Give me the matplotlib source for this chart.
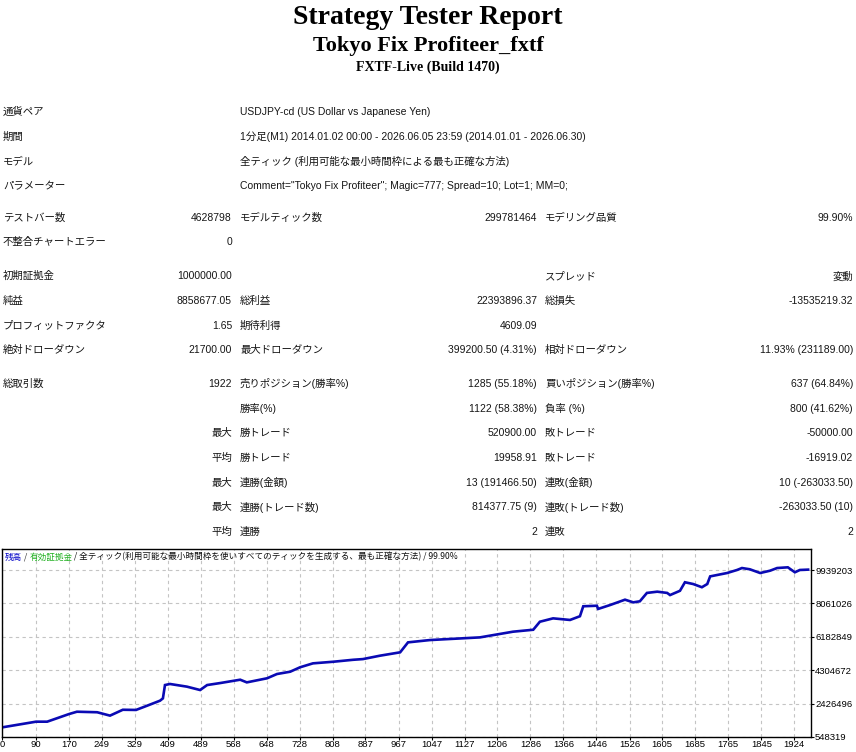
import matplotlib
matplotlib.use('Agg')
import matplotlib.pyplot as plt

# ---- report header ----
title = "Strategy Tester Report"
ea_name = "Tokyo Fix Profiteer_fxtf"
server = "FXTF-Live (Build 1470)"

# ---- report table (text only) ----
info_rows = [
    ("通貨ペア", "USDJPY-cd (US Dollar vs Japanese Yen)"),
    ("期間", "1分足(M1) 2014.01.02 00:00 - 2026.06.05 23:59 (2014.01.01 - 2026.06.30)"),
    ("モデル", "全ティック (利用可能な最小時間枠による最も正確な方法)"),
    ("パラメーター", 'Comment="Tokyo Fix Profiteer"; Magic=777; Spread=10; Lot=1; MM=0;'),
]
test_rows = [
    ("テストバー数", "4628798", "モデルティック数", "299781464", "モデリング品質", "99.90%"),
    ("不整合チャートエラー", "0", "", "", "", ""),
]
money_rows = [
    ("初期証拠金", "1000000.00", "", "", "スプレッド", "変動"),
    ("純益", "8858677.05", "総利益", "22393896.37", "総損失", "-13535219.32"),
    ("プロフィットファクタ", "1.65", "期待利得", "4609.09", "", ""),
    ("絶対ドローダウン", "21700.00", "最大ドローダウン", "399200.50 (4.31%)", "相対ドローダウン", "11.93% (231189.00)"),
]
trade_rows = [
    ("総取引数", "1922", "売りポジション(勝率%)", "1285 (55.18%)", "買いポジション(勝率%)", "637 (64.84%)"),
    ("", "", "勝率(%)", "1122 (58.38%)", "負率 (%)", "800 (41.62%)"),
    ("", "最大", "勝トレード", "520900.00", "敗トレード", "-50000.00"),
    ("", "平均", "勝トレード", "19958.91", "敗トレード", "-16919.02"),
    ("", "最大", "連勝(金額)", "13 (191466.50)", "連敗(金額)", "10 (-263033.50)"),
    ("", "最大", "連勝(トレード数)", "814377.75 (9)", "連敗(トレード数)", "-263033.50 (10)"),
    ("", "平均", "連勝", "2", "連敗", "2"),
]

# ---- balance curve ----
trade_no = [8, 90, 117, 170, 189, 238, 269, 300, 332, 359,
            390, 397, 402, 414, 455, 487, 504, 535, 584, 600,
            649, 673, 705, 729, 760, 809, 857, 881, 922, 971,
            990, 1043, 1164, 1244, 1293, 1309, 1341, 1382, 1406, 1414,
            1447, 1450, 1479, 1515, 1535, 1551, 1568, 1593, 1617, 1624,
            1648, 1660, 1680, 1701, 1714, 1721, 1762, 1786, 1798, 1817,
            1842, 1866, 1883, 1909, 1926, 1938, 1958]
balance_m = [1.09, 1.41, 1.41, 1.84, 1.97, 1.94, 1.75, 2.08, 2.07, 2.31,
             2.59, 2.72, 3.47, 3.53, 3.38, 3.19, 3.47, 3.58, 3.77, 3.62,
             3.85, 4.09, 4.22, 4.47, 4.69, 4.78, 4.89, 4.93, 5.12, 5.31,
             5.87, 6.00, 6.15, 6.47, 6.58, 7.03, 7.22, 7.13, 7.34, 7.90,
             7.93, 7.75, 7.97, 8.27, 8.12, 8.18, 8.65, 8.72, 8.65, 8.53,
             8.77, 9.25, 9.15, 8.97, 9.15, 9.58, 9.77, 9.94, 10.05, 9.98,
             9.77, 9.90, 10.05, 10.09, 9.81, 9.94, 9.96]
balance = [b * 1e6 for b in balance_m]

x_ticks = [0, 90, 170, 249, 329, 409, 489, 568, 648, 728, 808, 887, 967, 1047,
           1127, 1206, 1286, 1366, 1446, 1526, 1605, 1685, 1765, 1845, 1924]
y_ticks = [548319, 2426496, 4304672, 6182849, 8061026, 9939203]

legend_parts = ["残高", " / ", "有効証拠金", " / 全ティック(利用可能な最小時間枠を使いすべてのティックを生成する、最も正確な方法) / 99.90%"]
legend_colors = ["#0000c8", "#333333", "#20b020", "#111111"]

W, H = 856, 752
fig = plt.figure(figsize=(W / 100, H / 100), dpi=100)
fig.patch.set_facecolor('white')

jp = ['Liberation Sans', 'Noto Sans CJK JP']
serif = ['Liberation Serif', 'DejaVu Serif']


def fx(px):
    return px / W


def fy(py):
    return 1 - py / H


# header
fig.text(0.5, fy(18), title, family=serif, weight='bold', fontsize=20, ha='center', va='center')
fig.text(0.5, fy(46), ea_name, family=serif, weight='bold', fontsize=16, ha='center', va='center')
fig.text(0.5, fy(67), server, family=serif, weight='bold', fontsize=10, ha='center', va='center')

# table
fs = 7.5
tc = '#151515'
row_step = 24.7
y = 112
for lab, val in info_rows:
    fig.text(fx(3), fy(y), lab, family=jp, fontsize=fs, color=tc, va='center')
    fig.text(fx(240), fy(y), val, family=jp, fontsize=fs, color=tc, va='center')
    y += row_step

col_x = [3, 232, 240, 537, 545, 853]
col_ha = ['left', 'right', 'left', 'right', 'left', 'right']
y += 7
for section in (test_rows, money_rows, trade_rows):
    for row in section:
        for cx, ha, txt in zip(col_x, col_ha, row):
            if txt:
                fig.text(fx(cx), fy(y), txt, family=jp, fontsize=fs, color=tc, va='center', ha=ha)
        y += row_step
    y += 9

# chart
ax_l, ax_r, ax_t, ax_b = 2, 811, 549, 737
ax = fig.add_axes([fx(ax_l), fy(ax_b), fx(ax_r - ax_l), (ax_b - ax_t) / H])
ax.plot(trade_no, balance, color='#0a0ab4', lw=1.9, solid_joinstyle='miter')
x_left = 7.7
ax.set_xlim(x_left, 1965)
ax.set_ylim(548319, 548319 + 188 * 56233)
ax.set_xticks([x_left] + x_ticks[1:])
ax.set_xticklabels([str(v) for v in x_ticks])
ax.set_yticks(y_ticks)
ax.set_yticklabels([str(v) for v in y_ticks])
ax.yaxis.tick_right()
ax.tick_params(axis='both', direction='out', length=2, width=0.8, labelsize=6.8, pad=1, colors='black')
ax.tick_params(axis='x', pad=0.3)
for lbl in ax.get_xticklabels() + ax.get_yticklabels():
    lbl.set_family(['Liberation Sans', 'DejaVu Sans'])
ax.grid(True, color='#c4c4c4', linestyle=(0, (3, 3)), linewidth=0.8)
for sp in ax.spines.values():
    sp.set_color('#000000')
    sp.set_linewidth(1.0)

# chart legend line
fig.canvas.draw()
renderer = fig.canvas.get_renderer()
lx = fx(5)
for txt, col in zip(legend_parts, legend_colors):
    t = fig.text(lx, fy(557), txt, family=['Noto Sans CJK JP', 'DejaVu Sans'], fontsize=6.2,
                 color=col, va='center', ha='left')
    bb = t.get_window_extent(renderer)
    lx = bb.x1 / fig.bbox.width

fig.savefig('out.png', dpi=100)
